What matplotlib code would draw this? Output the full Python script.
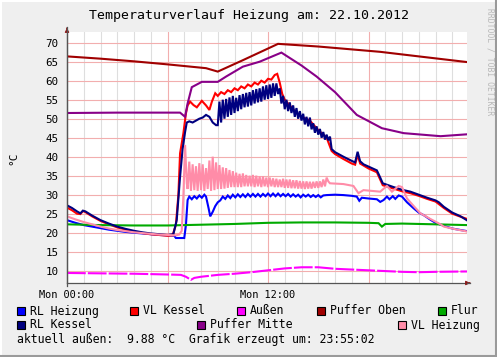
import matplotlib
matplotlib.use("Agg")
import matplotlib.pyplot as plt
from matplotlib.patches import Rectangle
from matplotlib.lines import Line2D

# hours since Mon 00:00
t_rl_heizung = [0, 0.5, 1, 1.5, 2, 2.5, 3, 3.5, 4, 4.5, 5, 5.5, 6, 6.4, 6.5, 7.0, 7.1, 7.2,
                7.3, 7.45, 7.6, 7.75, 7.9, 8.05, 8.2, 8.3, 8.45, 8.55, 8.7, 8.85, 9.0, 9.15,
                9.3, 9.45, 9.6, 9.75, 9.9, 10.05, 10.2, 10.35, 10.5, 10.65, 10.8, 10.95, 11.1,
                11.25, 11.4, 11.55, 11.7, 11.85, 12.0, 12.15, 12.3, 12.45, 12.6, 12.75, 12.9,
                13.05, 13.2, 13.35, 13.5, 13.65, 13.8, 13.95, 14.1, 14.25, 14.4, 14.55, 14.7,
                14.85, 15.0, 15.15, 15.3, 15.5, 16, 16.5, 17.0, 17.3, 17.45, 17.6, 18.0, 18.5,
                18.7, 18.9, 19.1, 19.25, 19.45, 19.6, 19.8, 20.0, 20.3, 20.7, 21.0, 21.3, 21.7,
                22.0, 22.5, 23.0, 23.5, 23.9]
rl_heizung = [23.3, 22.6, 22.0, 21.6, 21.2, 20.8, 20.5, 20.2, 20.0, 19.8, 19.6, 19.4, 19.3, 19.2,
              18.6, 18.6, 22.0, 28.6,
              29.5, 28.8, 29.6, 29.0, 29.8, 29.2, 30.0, 29.5, 26.5, 24.3, 25.5, 27.0, 28.0, 28.5,
              29.5, 28.9, 29.8, 29.1, 30.0, 29.3, 30.1, 29.4, 30.1, 29.4, 30.2, 29.5, 30.2,
              29.5, 30.2, 29.5, 30.2, 29.6, 30.3, 29.6, 30.3, 29.6, 30.3, 29.6, 30.2,
              29.6, 30.2, 29.5, 30.1, 29.5, 30.0, 29.3, 30.0, 29.5, 30.0, 29.4, 29.9,
              29.4, 29.9, 29.3, 29.8, 29.9, 30.0, 29.9, 29.7, 29.5, 28.4, 29.2, 29.0, 28.8,
              28.1, 28.6, 29.5, 28.8, 29.6, 28.9, 29.8, 29.5, 28.0, 26.4, 25.3, 24.6, 23.4,
              22.6, 21.8, 21.1, 20.7, 20.4]

t_vl_kessel = [0, 0.3, 0.6, 0.8, 0.95, 1.1, 1.5, 2, 2.5, 3, 3.5, 4, 4.5, 5, 5.5, 6, 6.3, 6.5,
               6.65, 6.75, 6.95, 7.1, 7.2, 7.35, 7.55, 7.75, 8.05, 8.3, 8.5, 8.65, 8.85,
               9.0, 9.2, 9.4, 9.6, 9.8, 10.0, 10.2, 10.4, 10.6, 10.8, 11.0, 11.2, 11.4, 11.6,
               11.8, 12.0, 12.2, 12.4, 12.55, 12.7, 12.85, 13.0, 13.3, 13.6, 14.0, 14.5, 15.0,
               15.5, 15.8, 16.0, 16.5, 17.0, 17.2, 17.35, 17.5, 18.0, 18.5, 18.85, 19.5, 20.0,
               20.5, 21.0, 21.5, 22.0, 22.5, 23.0, 23.5, 23.9]
vl_kessel = [26.6, 25.9, 25.0, 24.9, 25.7, 25.4, 24.3, 23.1, 22.2, 21.4, 20.8, 20.3, 19.9, 19.6,
             19.4, 19.2, 19.3, 22.0, 30.0, 40.9, 46.2, 51.4, 53.5, 54.5, 53.6, 53.0, 54.7, 53.5,
             52.3, 54.5, 56.7,
             56.0, 57.0, 56.5, 57.5, 57.0, 58.0, 57.5, 58.5, 58.0, 59.0, 58.5, 59.5, 59.0, 60.0,
             59.5, 60.5, 60.3, 61.5, 61.8, 59.5, 56.5, 55.0, 53.5, 52.0, 50.5, 49.5, 47.0,
             45.0, 41.5, 40.7, 39.4, 38.2, 37.9, 40.5, 38.2, 36.9, 35.9, 32.5, 31.6, 30.9,
             30.4, 29.7, 28.9, 28.2, 26.5, 25.0, 24.2, 23.6]

t_aussen = [0, 2, 4, 6, 6.8, 7.1, 7.4, 7.6, 8.0, 9.0, 10.0, 11, 12, 13, 14, 15, 16, 17, 18,
            19, 20, 21, 22, 23.9]
aussen = [9.4, 9.3, 9.2, 9.0, 8.9, 8.4, 7.6, 8.1, 8.4, 8.9, 9.2, 9.6, 10.1, 10.6, 10.9, 10.9,
          10.5, 10.3, 10.1, 9.9, 9.7, 9.6, 9.7, 9.8]

t_puffer_oben = [0, 2, 4, 6, 8.3, 9.0, 10.5, 12.6, 15, 18.7, 21, 23.9]
puffer_oben = [66.4, 65.8, 65.1, 64.3, 63.3, 62.4, 65.4, 69.7, 69.0, 67.6, 66.4, 64.9]

t_flur = [0, 2, 4, 6, 8, 10, 12, 14, 16, 18, 18.6, 18.8, 19.0, 20, 22, 23.9]
flur = [22.2, 22.0, 21.9, 21.9, 22.1, 22.3, 22.6, 22.7, 22.7, 22.6, 22.5, 21.6, 22.3, 22.4,
        22.2, 22.0]

t_rl_kessel = [0, 0.3, 0.6, 0.8, 0.95, 1.1, 1.5, 2, 2.5, 3, 3.5, 4, 4.5, 5, 5.5, 6, 6.35, 6.55,
               6.75, 6.9, 7.05, 7.15, 7.3, 7.5, 7.7, 7.9, 8.1, 8.3, 8.5, 8.7, 8.9,
               9.0, 9.1, 9.2, 9.3, 9.4, 9.5, 9.6, 9.7, 9.8, 9.9,
               10.0, 10.1, 10.2, 10.3, 10.4, 10.5, 10.6, 10.7, 10.8, 10.9,
               11.0, 11.1, 11.2, 11.3, 11.4, 11.5, 11.6, 11.7, 11.8, 11.9,
               12.0, 12.1, 12.2, 12.3, 12.4, 12.5, 12.6, 12.7, 12.8, 12.9,
               13.0, 13.1, 13.2, 13.3, 13.4, 13.5, 13.6, 13.7, 13.8, 13.9,
               14.0, 14.1, 14.2, 14.3, 14.4, 14.5, 14.6, 14.7, 14.8, 14.9,
               15.0, 15.1, 15.2, 15.3, 15.4, 15.5, 15.6, 15.7, 15.8, 16.0, 16.5,
               17.0, 17.2, 17.35, 17.5, 17.7, 18.0, 18.5, 18.7, 18.85, 19.5, 20.0, 20.5, 21.0,
               21.5, 22.0, 22.2, 22.5, 23.0, 23.5, 23.9]
rl_kessel = [27.2, 26.5, 25.6, 25.1, 25.8, 25.6, 24.5, 23.3, 22.4, 21.6, 21.0, 20.5, 20.1, 19.8,
             19.6, 19.4, 19.6, 23.3, 34.7, 42.0, 46.5, 49.0, 49.3, 49.0, 49.5, 50.0, 50.3, 51.0,
             50.5, 49.0, 48.3,
             48.3, 54.5, 49.0, 55.0, 50.0, 55.2, 50.5, 55.6, 51.0, 56.0,
             51.5, 55.5, 52.0, 56.2, 52.5, 56.5, 53.0, 56.8, 53.2, 57.0,
             53.5, 57.5, 54.0, 57.8, 54.3, 58.0, 54.5, 58.5, 55.0, 58.8,
             55.2, 59.0, 55.5, 59.3, 56.0, 59.3, 56.5, 58.0, 54.0, 56.0,
             52.5, 55.0, 52.0, 54.3, 51.5, 53.5, 50.5, 52.8, 50.0, 52.0,
             49.5, 51.3, 48.5, 50.5, 48.0, 50.3, 47.2, 48.8, 46.3, 48.0,
             45.8, 47.3, 45.0, 46.5, 44.5, 45.8, 44.3, 45.3, 42.0, 41.2, 40.0,
             38.9, 38.5, 41.3, 38.8, 38.0, 37.4, 36.4, 34.5, 33.0, 32.0, 31.3, 30.8, 30.0,
             29.2, 28.5, 28.0, 26.8, 25.3, 24.3, 23.2]

t_puffer_mitte = [0, 3, 6.75, 7.05, 7.2, 7.45, 8.05, 9.0, 9.5, 10.5, 11.5, 12.8, 14.0, 14.9,
                  16.0, 17.3, 18.8, 20.1, 22.3, 23.9]
puffer_mitte = [51.5, 51.6, 51.6, 50.5, 54.0, 58.3, 59.7, 59.7, 61.1, 63.7, 65.0, 67.4, 64.0,
                61.1, 57.0, 51.0, 47.5, 46.2, 45.4, 45.9]

t_vl_heizung = [0, 0.5, 1, 1.5, 2, 2.5, 3, 3.5, 4, 4.5, 5, 5.5, 6, 6.5, 6.7, 6.85, 6.95, 7.05,
                7.15, 7.2, 7.3, 7.4, 7.5, 7.6, 7.7, 7.8, 7.9,
                8.0, 8.1, 8.2, 8.3, 8.4, 8.5, 8.6, 8.7, 8.8, 8.9,
                9.0, 9.1, 9.2, 9.3, 9.4, 9.5, 9.6, 9.7, 9.8, 9.9,
                10.0, 10.1, 10.2, 10.3, 10.4, 10.5, 10.6, 10.7, 10.8, 10.9,
                11.0, 11.1, 11.2, 11.3, 11.4, 11.5, 11.6, 11.7, 11.8, 11.9,
                12.0, 12.1, 12.2, 12.3, 12.4, 12.5, 12.6, 12.7, 12.8, 12.9,
                13.0, 13.1, 13.2, 13.3, 13.4, 13.5, 13.6, 13.7, 13.8, 13.9,
                14.0, 14.1, 14.2, 14.3, 14.4, 14.5, 14.6, 14.7, 14.8, 14.9,
                15.0, 15.1, 15.2, 15.3, 15.4, 15.5, 15.6, 15.7,
                16.5, 17.1, 17.4, 17.7, 18.2, 18.7, 19.1, 19.4, 19.8, 20.0, 20.3, 20.7, 21.1,
                21.7, 22.3, 22.5, 23.2, 23.9]
vl_heizung = [24.3, 23.5, 22.8, 22.2, 21.6, 21.1, 20.7, 20.4, 20.1, 19.9, 19.7, 19.5, 19.4,
              19.3, 19.5, 20.5, 30.0, 43.1,
              33.0, 31.5, 38.7, 31.0, 38.0, 31.2, 37.5, 31.0, 38.3,
              31.2, 38.0, 31.0, 37.0, 31.5, 39.0, 31.0, 40.0, 31.2, 38.5,
              31.5, 37.8, 31.5, 37.2, 31.6, 37.0, 31.8, 36.5, 32.0, 36.2,
              32.0, 35.8, 32.0, 35.5, 32.0, 35.6, 32.2, 35.2, 32.2, 35.0,
              32.2, 35.2, 32.0, 35.0, 32.2, 34.8, 32.0, 34.8, 32.2, 34.5,
              32.0, 34.5, 32.2, 34.3, 32.0, 34.2, 32.0, 34.0, 32.0, 34.2,
              31.8, 34.0, 31.8, 34.0, 31.7, 33.8, 31.7, 33.8, 31.6, 33.6,
              31.6, 33.5, 31.5, 33.5, 31.6, 33.4, 31.6, 33.4, 31.8, 33.5,
              31.8, 33.5, 32.0, 34.0, 32.2, 34.5, 33.5, 33.0,
              32.8, 32.3, 30.4, 31.2, 31.0, 30.8, 32.3, 30.8, 32.3, 32.0, 29.0, 27.0, 25.1,
              23.6, 22.2, 21.6, 20.9, 20.3]

series = [
    ("RL Heizung", t_rl_heizung, rl_heizung, "#0000FF"),
    ("VL Kessel", t_vl_kessel, vl_kessel, "#FF0000"),
    ("Außen", t_aussen, aussen, "#FF00FF"),
    ("Puffer Oben", t_puffer_oben, puffer_oben, "#A00000"),
    ("Flur", t_flur, flur, "#00AA00"),
    ("RL Kessel", t_rl_kessel, rl_kessel, "#000080"),
    ("Puffer Mitte", t_puffer_mitte, puffer_mitte, "#880088"),
    ("VL Heizung", t_vl_heizung, vl_heizung, "#FF8CA8"),
]

y_ticks = [10, 15, 20, 25, 30, 35, 40, 45, 50, 55, 60, 65, 70]
x_ticks = [0, 12]
x_labels = ["Mon 00:00", "Mon 12:00"]

mono = "DejaVu Sans Mono"
W, H = 497, 357
fig = plt.figure(figsize=(W / 100, H / 100), dpi=100, facecolor="#EFEFEF")

# frame like rrdtool
fig.add_artist(Line2D([0, 1], [1 - 1 / H, 1 - 1 / H], color="white", lw=1.5, transform=fig.transFigure))
fig.add_artist(Line2D([1 / W, 1 / W], [0, 1], color="white", lw=1.5, transform=fig.transFigure))
fig.add_artist(Line2D([0, 1], [1 / H, 1 / H], color="#9A9A9A", lw=1.5, transform=fig.transFigure))
fig.add_artist(Line2D([1 - 1 / W, 1 - 1 / W], [0, 1], color="#9A9A9A", lw=1.5, transform=fig.transFigure))

x0, x1, y0, y1 = 67, 467, 283, 32
ax = fig.add_axes([x0 / W, 1 - y0 / H, (x1 - x0) / W, (y0 - y1) / H])
ax.set_facecolor("white")
ax.set_xlim(0, 23.88)
ax.set_ylim(6.76, 72.82)

# grid
for h in range(1, 24):
    if h % 6 == 0:
        ax.axvline(h, color="#F2AEAE", lw=0.8, zorder=1)
    else:
        ax.axvline(h, color="#DEDEDE", lw=0.8, zorder=0.5)
for v in y_ticks:
    ax.axhline(v, color="#F2AEAE", lw=0.8, zorder=1)

for i, (name, t, v, c) in enumerate(series):
    if name == "Außen":
        ax.plot(t, v, color=c, lw=1.5, zorder=2 + i, dashes=(9, 1))
    else:
        ax.plot(t, v, color=c, lw=1.5, zorder=2 + i, solid_joinstyle="miter")

for s in ["top", "right"]:
    ax.spines[s].set_visible(False)
for s in ["left", "bottom"]:
    ax.spines[s].set_color("#555555")
    ax.spines[s].set_linewidth(0.9)

ax.set_yticks(y_ticks)
ax.set_yticklabels([str(v) for v in y_ticks], family=mono, fontsize=7.8)
ax.set_xticks(x_ticks)
ax.set_xticklabels(x_labels, family=mono, fontsize=7.4)
ax.tick_params(length=0, pad=6, colors="black")
ax.tick_params(axis="x", pad=5)

# axis arrows
fig.add_artist(Line2D([x0 / W, x0 / W], [1 - y0 / H - 3 / H, 1 - 27 / H], color="#555555", lw=0.9,
                      transform=fig.transFigure))
fig.add_artist(Line2D([x1 / W, 470 / W], [1 - y0 / H, 1 - y0 / H], color="#555555", lw=0.9,
                      transform=fig.transFigure))
ax.annotate("", xy=(x0 / W, 1 - 25 / H), xytext=(x0 / W, 1 - 31 / H), xycoords="figure fraction",
            arrowprops=dict(arrowstyle="-|>", color="#8B1A1A", lw=0.8, mutation_scale=6))
ax.annotate("", xy=(473 / W, 1 - y0 / H), xytext=(467 / W, 1 - y0 / H), xycoords="figure fraction",
            arrowprops=dict(arrowstyle="-|>", color="#8B1A1A", lw=0.8, mutation_scale=6))

fig.text(249 / W, 1 - 16 / H, "Temperaturverlauf Heizung am: 22.10.2012", family=mono,
         fontsize=9.5, ha="center", va="center")
fig.text(13 / W, 1 - 158 / H, "°C", family=mono, fontsize=8, rotation=90, ha="center", va="center")
fig.text(490 / W, 1 - 62 / H, "RRDTOOL / TOBI OETIKER", family=mono, fontsize=5.8,
         rotation=-90, ha="center", va="center", color="#B8B8B8")

# legend rows
legend_pos = [(17, 311), (130, 311), (237, 311), (317, 311), (438, 311),
              (17, 325), (197, 325), (398, 325)]
for (name, _, _, c), (px, py) in zip(series, legend_pos):
    fig.add_artist(Rectangle((px / W, 1 - (py + 4) / H), 8 / W, 8 / H, facecolor=c,
                             edgecolor="black", lw=0.8, transform=fig.transFigure))
    fig.text((px + 13) / W, 1 - py / H, name, family=mono, fontsize=8.3, va="center")

fig.text(17 / W, 1 - 339 / H, "aktuell außen:  9.88 °C  Grafik erzeugt um: 23:55:02",
         family=mono, fontsize=8.3, va="center")

fig.savefig("out.png", dpi=100, facecolor=fig.get_facecolor())
